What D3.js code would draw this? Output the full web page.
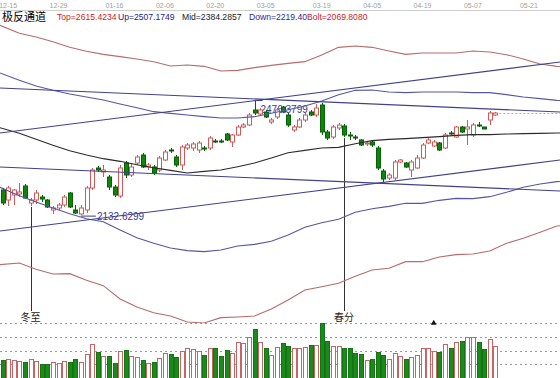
<!DOCTYPE html>
<html>
<head>
<meta charset="utf-8">
<script src="https://cdn.jsdelivr.net/npm/d3@7"></script>
<style>
  html, body { margin: 0; padding: 0; background: #fff; }
  svg { display: block; }
</style>
</head>
<body>
<svg width="560" height="378"></svg>
<script>
// date strip on top: label text and the bar it sits over
const dateLabels = ["12-15","12-29","01-16","02-06","02-20","03-05","03-19","04-05","04-19","05-07","05-21"]
const dateIdx    = [1, 10, 20, 29, 38, 47, 57, 66, 75, 84, 94]

// daily bars, oldest first (89 bars)
const open = [
  2208,2178,2193,2196,2220,2169,2178,2187,2178,2148,
  2154,2163,2199,2148,2136,2148,2214,2274,2262,2247,
  2217,2190,2289,2253,2289,2313,2277,2277,2268,2298,
  2328,2307,2283,2334,2334,2328,2334,2334,2355,2355,
  2376,2352,2373,2397,2403,2448,2436,2442,2412,2427,
  2457,2433,2388,2397,2418,2442,2433,2463,2382,2367,
  2394,2400,2373,2367,2358,2346,2352,2334,2265,2244,
  2244,2292,2289,2268,2274,2304,2349,2340,2349,2334,
  2379,2367,2397,2391,2373,2403,2397,2418,2433]
const close = [
  2169,2214,2208,2202,2184,2178,2199,2181,2157,2154,
  2163,2187,2157,2139,2154,2214,2268,2268,2268,2217,
  2193,2274,2253,2277,2307,2277,2283,2259,2304,2322,
  2325,2283,2337,2343,2346,2349,2331,2364,2352,2352,
  2358,2373,2397,2403,2433,2439,2448,2427,2418,2448,
  2442,2403,2397,2418,2433,2433,2454,2382,2364,2397,
  2403,2373,2370,2364,2343,2349,2343,2274,2241,2253,
  2292,2298,2277,2292,2304,2343,2358,2352,2328,2373,
  2376,2397,2382,2397,2403,2400,2391,2439,2439]
const high = [
  2214,2220,2211,2229,2226,2184,2208,2193,2181,2160,
  2169,2193,2202,2163,2163,2220,2274,2280,2283,2253,
  2223,2283,2295,2289,2313,2319,2289,2283,2310,2328,
  2334,2313,2343,2349,2352,2355,2340,2370,2361,2361,
  2379,2376,2403,2409,2439,2476.3799,2454,2448,2424,2454,
  2460,2439,2403,2424,2439,2448,2466,2469,2388,2403,
  2409,2406,2382,2373,2361,2355,2355,2340,2271,2259,
  2298,2301,2292,2298,2313,2349,2364,2358,2352,2379,
  2385,2400,2400,2418,2409,2412,2397,2445,2442]
const low = [
  2163,2160,2163,2187,2181,2160,2166,2172,2154,2136,
  2148,2157,2154,2136,2132.6299,2139,2208,2262,2247,2208,
  2187,2184,2244,2247,2283,2274,2268,2253,2262,2295,
  2319,2277,2268,2328,2325,2319,2325,2328,2349,2349,
  2355,2337,2370,2394,2400,2433,2430,2424,2406,2421,
  2439,2397,2382,2394,2412,2430,2427,2373,2358,2361,
  2388,2367,2358,2358,2340,2340,2337,2268,2232,2238,
  2238,2289,2274,2247,2271,2301,2346,2337,2325,2331,
  2373,2364,2379,2343,2367,2397,2391,2403,2430]
const volume = [
  360,380,360,340,320,380,340,280,280,320,
  300,340,320,380,320,480,680,520,440,440,
  300,540,560,440,420,360,300,320,400,500,
  480,420,540,600,580,540,460,600,600,440,
  560,500,720,700,820,980,720,600,460,620,
  700,640,600,600,620,660,660,1100,740,640,
  640,600,600,500,480,360,380,520,460,380,
  500,440,380,420,460,600,600,540,520,680,
  600,720,740,820,820,720,580,780,640]
const volTicks = [275, 550, 825, 1100]

// channel curves, read every third bar (they run past the last bar)
const curveIdx = [-0.45,3,6,9,12,15,18,21,24,27,30,33,36,39,42,45,48,51,54,57,60,63,66,69,72,75,78,81,84,87,90,93,96,99,100.5]
const topLine  = [2702,2678,2667,2653,2636,2624,2615,2608,2601,2593,2580,2583,2579,2565,2567,2575,2582,2588,2593,2613,2636,2640,2636,2625,2615,2619,2619,2619,2625,2622,2614,2601,2586,2579,2578]
const upLine   = [2559,2537,2520,2507,2496,2487,2478,2466,2455,2443,2438,2433,2428,2424,2424,2428,2438,2449,2460,2475,2494,2507,2508,2502,2500,2502,2502,2502,2500,2500,2494,2487,2482,2477,2476]
const midLine  = [2395,2378,2360,2342,2326,2313,2302,2294,2284,2275,2267,2259,2264,2268,2278,2289,2304,2320,2327,2334,2336,2347,2356,2360,2362,2365,2368,2372,2374,2374,2376,2377,2378,2379,2379]
const downLine = [2216,2191,2172,2154,2137,2122,2113,2088,2065,2048,2034,2026,2023,2028,2040,2045,2054,2073,2096,2110,2120,2141,2152,2159,2168,2168,2177,2183,2182,2188,2201,2216,2226,2233,2234]
const boltLine = [1984,1989,1970,1956,1957,1937,1921,1881,1857,1840,1830,1812,1809,1825,1827,1830,1851,1878,1908,1918,1928,1949,1968,1973,1993,1993,2007,2014,2016,2025,2048,2063,2081,2100,2102]

// hand drawn trend lines: [startIdx, startPrice, endIdx, endPrice]
const trendLines = [
  [-0.45, 2379, 99.55, 2592],
  [-0.45, 2514, 99.55, 2442],
  [-0.45, 2277, 99.55, 2205],
  [-0.45, 2085, 99.55, 2298]
]

// solar terms marked under the bars
const termNames = ["冬至", "春分"]
const termIdx   = [5, 61]

// header legend
const legendNames  = ["Top", "Up", "Mid", "Down", "Bolt"]
const legendValues = ["2615.4234", "2507.1749", "2384.2857", "2219.40", "2069.8080"]

const svg = d3.select("svg")
const W = 560

const x  = d3.scaleLinear().domain([0, 88]).range([2.5, 495.3])
const y  = d3.scaleLinear().domain([1812, 2748]).range([322, 10])
const yv = d3.scaleLinear().domain([0, 1100]).range([378, 323])

const RED = "#d05a5a", GREEN = "#0b870b", GREEN_DK = "#066006"
const crisp = v => Math.round(v) + 0.5

// date strip
svg.append("line").attr("x1", 0).attr("x2", W).attr("y1", 10.5).attr("y2", 10.5)
  .attr("stroke", "#cfcfcf")
svg.append("g").selectAll("text").data(dateLabels).join("text")
  .attr("x", (d, i) => x(dateIdx[i])).attr("y", 8)
  .attr("text-anchor", "middle")
  .style("font", "7px 'Liberation Sans', Arial, sans-serif")
  .attr("fill", "#a0a0a0")
  .text(d => d)

// volume grid
svg.append("g").selectAll("line").data(volTicks).join("line")
  .attr("x1", 0).attr("x2", W)
  .attr("y1", d => crisp(yv(d))).attr("y2", d => crisp(yv(d)))
  .attr("stroke", "#9a9a9a").attr("stroke-dasharray", "2,3")

// volume bars
const up = i => close[i] >= open[i]
svg.append("g").selectAll("rect").data(volume).join("rect")
  .attr("x", (d, i) => Math.round(x(i)) - 2 + 0.5)
  .attr("y", d => Math.round(yv(d)) + 0.5)
  .attr("width", 4)
  .attr("height", d => 378 - Math.round(yv(d)))
  .attr("fill", (d, i) => up(i) ? "#fff" : "#1a8a1a")
  .attr("stroke", (d, i) => up(i) ? "#c86464" : "#157515")

// main area clip
svg.append("clipPath").attr("id", "main").append("rect")
  .attr("x", 0).attr("y", 11).attr("width", W).attr("height", 312.5)
const main = svg.append("g").attr("clip-path", "url(#main)")

// solar term lines and labels
termIdx.forEach((t, k) => {
  const cx = crisp(x(t))
  main.append("line").attr("x1", cx).attr("x2", cx)
    .attr("y1", y(low[t]) + 1).attr("y2", 311)
    .attr("stroke", "#333").attr("stroke-width", 1)
  svg.append("text").attr("x", x(t)).attr("y", 320.5)
    .attr("text-anchor", "middle")
    .style("font", "10px 'Noto Sans CJK SC', sans-serif")
    .attr("fill", "#222")
    .text(termNames[k])
})

// low / high labels
const iLow  = d3.minIndex(low)
const iHigh = d3.maxIndex(high)
const labelFont = "10px 'Liberation Sans', Arial, sans-serif"
main.append("line")
  .attr("x1", x(iLow)).attr("x2", x(iLow) + 15)
  .attr("y1", y(low[iLow]) + 1).attr("y2", y(low[iLow]) + 1)
  .attr("stroke", "#3a3a8c")
main.append("text").attr("x", x(iLow) + 16).attr("y", y(low[iLow]) + 5)
  .style("font", labelFont).attr("fill", "#3a3a8c")
  .text(d3.format(".4f")(low[iLow]))
main.append("line")
  .attr("x1", x(iHigh)).attr("x2", x(iHigh) + 8)
  .attr("y1", y(high[iHigh])).attr("y2", y(high[iHigh]))
  .attr("stroke", "#3a3a8c")
main.append("text").attr("x", x(iHigh) + 6).attr("y", y(high[iHigh]) + 12.5)
  .style("font", labelFont).attr("fill", "#3a3a8c")
  .text(d3.format(".4f")(high[iHigh]))

// candles
const candles = main.append("g").selectAll("g").data(open).join("g")
candles.append("line")
  .attr("x1", (d, i) => crisp(x(i))).attr("x2", (d, i) => crisp(x(i)))
  .attr("y1", (d, i) => y(high[i])).attr("y2", (d, i) => y(low[i]))
  .attr("stroke", (d, i) => up(i) ? RED : GREEN_DK)
candles.append("rect")
  .attr("x", (d, i) => Math.round(x(i)) - 2 + 0.5)
  .attr("y", (d, i) => y(Math.max(open[i], close[i])))
  .attr("width", 4)
  .attr("height", (d, i) => Math.max(1, y(Math.min(open[i], close[i])) - y(Math.max(open[i], close[i]))))
  .attr("fill", (d, i) => up(i) ? "#fff" : GREEN)
  .attr("stroke", (d, i) => up(i) ? RED : GREEN_DK)

// channel curves
const curve = vals => d3.line()
  .x((d, i) => x(curveIdx[i]))
  .y(d => y(d))(vals)
const curves = [
  [topLine,  "#b96a6a"],
  [upLine,   "#5656a6"],
  [midLine,  "#2a2a2a"],
  [downLine, "#5656a6"],
  [boltLine, "#b96a6a"]
]
curves.forEach(([vals, col]) => {
  main.append("path").attr("d", curve(vals))
    .attr("fill", "none").attr("stroke", col).attr("stroke-width", 1.1)
})

// trend lines
main.append("g").selectAll("line").data(trendLines).join("line")
  .attr("x1", d => x(d[0])).attr("y1", d => y(d[1]))
  .attr("x2", d => x(d[2])).attr("y2", d => y(d[3]))
  .attr("stroke", "#40408e").attr("stroke-width", 1.1)

// last price guide
const last = close.length - 1
main.append("line")
  .attr("x1", x(last) + 4).attr("x2", W)
  .attr("y1", crisp(y(close[last]))).attr("y2", crisp(y(close[last])))
  .attr("stroke", "#aaa").attr("stroke-dasharray", "2,2")

// small marker on the volume top line
svg.append("path")
  .attr("d", d3.symbol(d3.symbolTriangle, 14)())
  .attr("transform", `translate(${x(77)},323)`)
  .attr("fill", "#111")

// legend
svg.append("text").attr("x", 2).attr("y", 21)
  .style("font", "11px 'Noto Sans CJK SC', sans-serif").attr("fill", "#000")
  .text("极反通道")
const legX   = [57, 118, 182, 249, 307]
const legCol = ["#d42020", "#22228c", "#1a1a1a", "#2a2aa0", "#d42020"]
legendNames.forEach((n, k) => {
  svg.append("text").attr("x", legX[k]).attr("y", 20)
    .style("font", "8.6px 'Liberation Sans', Arial, sans-serif")
    .attr("fill", legCol[k])
    .text(n + "=" + legendValues[k])
})
</script>
</body>
</html>
